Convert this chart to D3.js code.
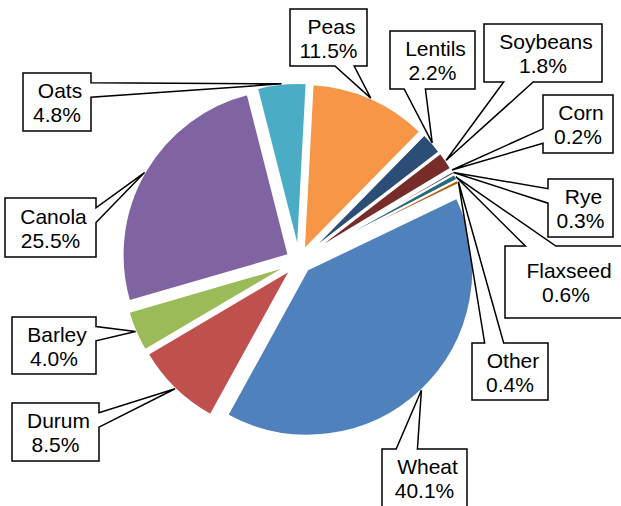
<!DOCTYPE html>
<html><head><meta charset="utf-8">
<script src="https://cdn.jsdelivr.net/npm/d3@7"></script>
<style>body{margin:0;background:#fff} svg{display:block}</style>
</head><body>
<svg id="chart" width="621" height="506"></svg>
<script>
const categories = ["Wheat","Durum","Barley","Canola","Oats","Peas","Lentils","Soybeans","Corn","Rye","Flaxseed","Other"];
const shares = [40.1, 8.5, 4.0, 25.5, 4.8, 11.5, 2.2, 1.8, 0.2, 0.3, 0.6, 0.4];
const colors = ["#4F81BD","#C0504D","#9BBB59","#8064A2","#4BACC6","#F79646","#2C4D75","#772C2A","#5F7530","#4D3B62","#276A7C","#B65708"];
// callout boxes for the data labels: [left, top, width, height]
const labelBoxes = [[382,449,85,58],[12,403,87,58],[12,317,84,57],[5,198,91,59],[23,73,68,58],[290,9,77,57],[390,31,85,58],[484,24,118,58],[543,95,70,58],[548,179,65,58],[505,246,122,72],[472,343,76,57]];

const cx = 299, cy = 261, R = 166, explode = 12;
const start = 64.3 * Math.PI / 180;
const svg = d3.select("#chart");

const pie = d3.pie().sort(null).value(d => d).startAngle(start).endAngle(start + 2 * Math.PI);
const arcs = pie(shares);
const arcGen = d3.arc().innerRadius(0).outerRadius(R);
const dirOf = a => [Math.sin(a), -Math.cos(a)];

const g = svg.append("g").attr("transform", `translate(${cx},${cy})`);
g.selectAll("path.slice").data(arcs).join("path")
  .attr("class", "slice")
  .attr("d", arcGen)
  .attr("fill", (d, i) => colors[i])
  .attr("stroke", "#fff").attr("stroke-width", 2).attr("stroke-linejoin", "round")
  .attr("transform", d => {
    const [ux, uy] = dirOf((d.startAngle + d.endAngle) / 2);
    return `translate(${ux * explode},${uy * explode})`;
  });

function callout(x, y, w, h, px, py) {
  const hc = x + w / 2, vc = y + h / 2;
  const dxPos = px - hc, dyPos = py - vc;
  const dz = Math.abs(dyPos) - Math.abs(dxPos * h / w);
  const l = x, t = y, r = x + w, b = y + h;
  const x1 = x + w * (dxPos > 0 ? 7 : 2) / 12, x2 = x + w * (dxPos > 0 ? 10 : 5) / 12;
  const y1 = y + h * (dyPos > 0 ? 7 : 2) / 12, y2 = y + h * (dyPos > 0 ? 10 : 5) / 12;
  const xl = dz > 0 ? l : (dxPos > 0 ? l : px);
  const yl = dz > 0 ? y1 : (dxPos > 0 ? y1 : py);
  const xt = dz > 0 ? (dyPos > 0 ? x1 : px) : x1;
  const yt = dz > 0 ? (dyPos > 0 ? t : py) : t;
  const xr = dz > 0 ? r : (dxPos > 0 ? px : r);
  const yr = dz > 0 ? y1 : (dxPos > 0 ? py : y1);
  const xb = dz > 0 ? (dyPos > 0 ? px : x1) : x1;
  const yb = dz > 0 ? (dyPos > 0 ? py : b) : b;
  const p = d3.path();
  p.moveTo(l, t); p.lineTo(x1, t); p.lineTo(xt, yt); p.lineTo(x2, t); p.lineTo(r, t);
  p.lineTo(r, y1); p.lineTo(xr, yr); p.lineTo(r, y2); p.lineTo(r, b);
  p.lineTo(x2, b); p.lineTo(xb, yb); p.lineTo(x1, b); p.lineTo(l, b);
  p.lineTo(l, y2); p.lineTo(xl, yl); p.lineTo(l, y1); p.closePath();
  return p.toString();
}

const tipArc = d3.arc().innerRadius(R + explode).outerRadius(R + explode);
const labels = svg.append("g").attr("font-family", "'Liberation Sans', Arial, sans-serif").attr("font-size", 21).attr("fill", "#000");
arcs.forEach((d, i) => {
  const [bx, by, bw, bh] = labelBoxes[i];
  const [tx, ty] = tipArc.centroid(d);
  labels.append("path")
    .attr("d", callout(bx, by, bw, bh, cx + tx, cy + ty))
    .attr("fill", "#fff").attr("stroke", "#000").attr("stroke-width", 1.5).attr("stroke-linejoin", "miter");
  const mx = bx + bw / 2, my = by + bh / 2;
  labels.append("text").attr("x", mx + 3).attr("y", my - 4).attr("text-anchor", "middle").text(categories[i]);
  labels.append("text").attr("x", mx).attr("y", my + 20).attr("text-anchor", "middle").text(shares[i].toFixed(1) + "%");
});
</script>
</body></html>
